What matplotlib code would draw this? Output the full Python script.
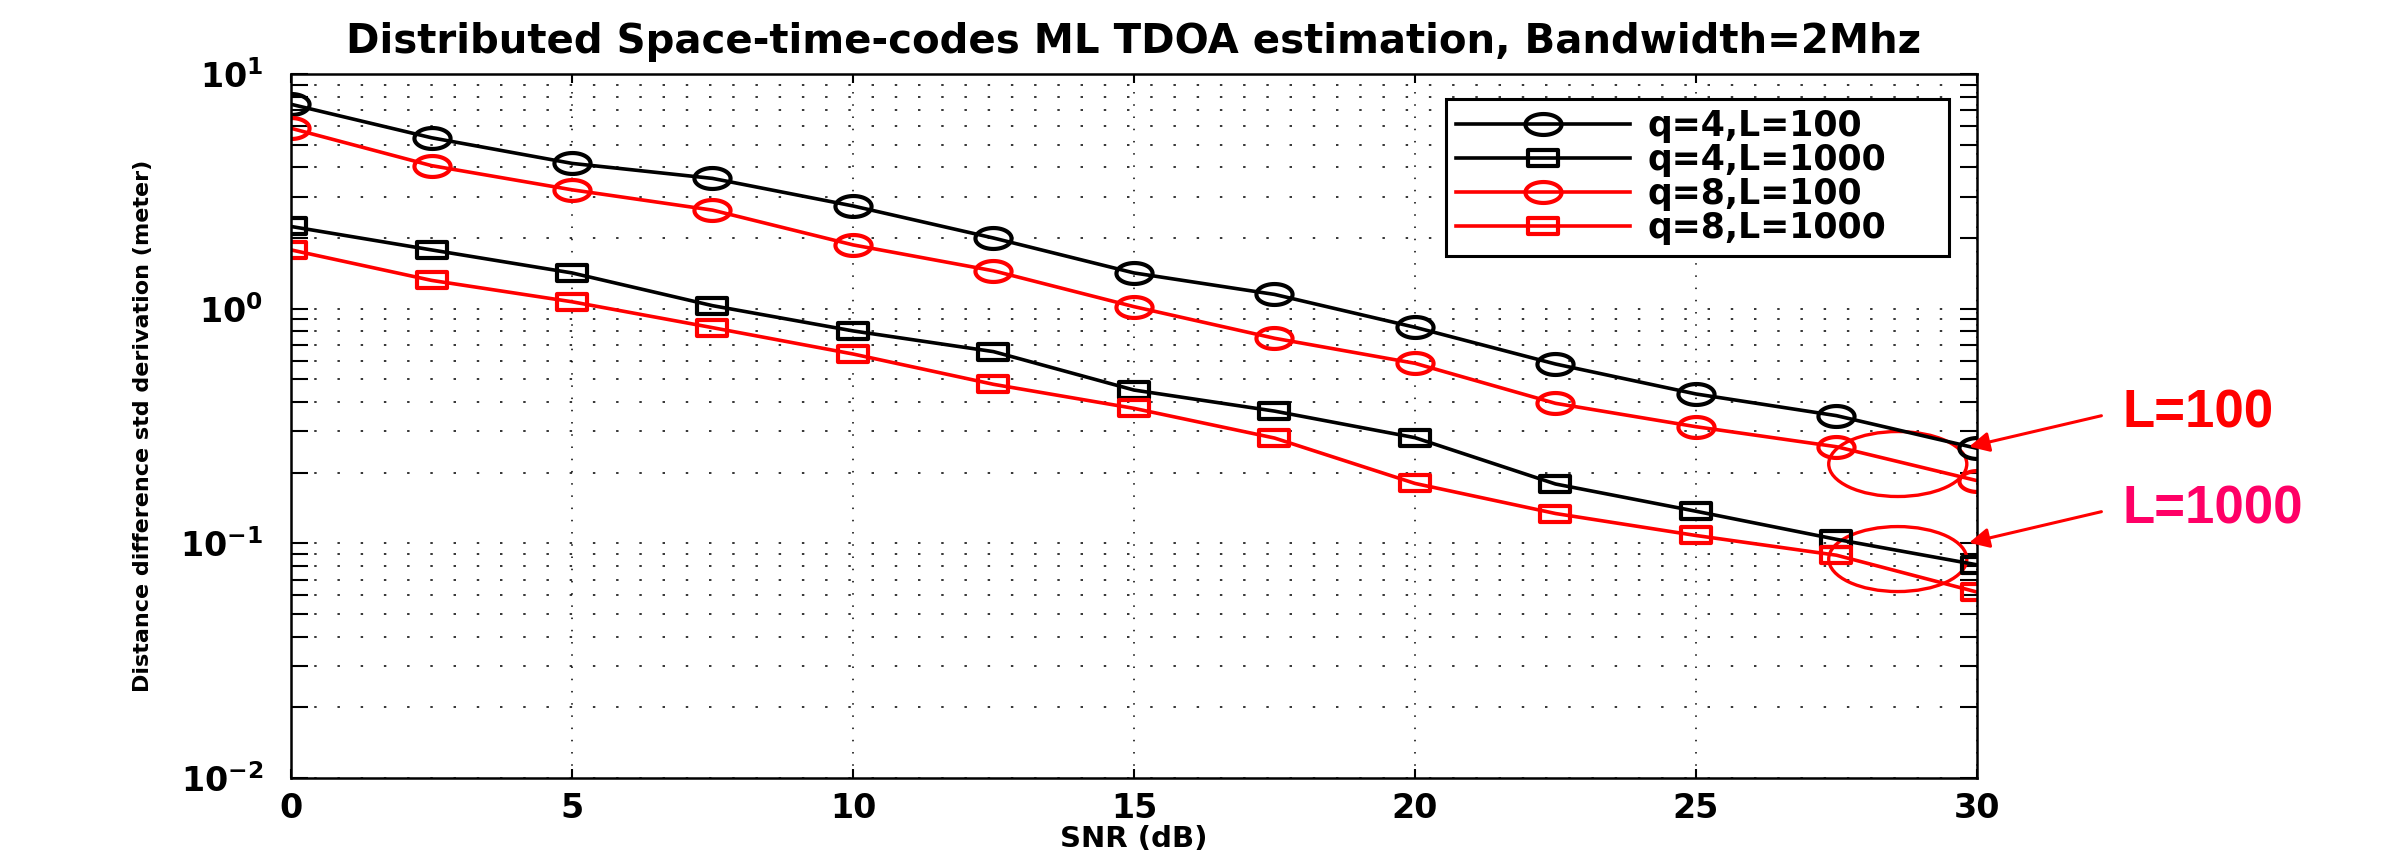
import numpy as np
import matplotlib
matplotlib.use("Agg")
from matplotlib import pyplot as plt
from matplotlib.path import Path
from matplotlib.patches import Ellipse

# SNR (dB)
snr = [0, 2.5, 5, 7.5, 10, 12.5, 15, 17.5, 20, 22.5, 25, 27.5, 30]

# distance difference std (m)
q4_L100 = [7.43, 5.35, 4.16, 3.59, 2.74, 2.00, 1.42, 1.15, 0.833, 0.581, 0.433, 0.350, 0.254]
q4_L1000 = [2.24, 1.78, 1.42, 1.03, 0.804, 0.656, 0.450, 0.366, 0.282, 0.179, 0.137, 0.104, 0.081]
q8_L100 = [5.87, 4.07, 3.21, 2.63, 1.87, 1.45, 1.02, 0.748, 0.585, 0.395, 0.314, 0.258, 0.185]
q8_L1000 = [1.78, 1.32, 1.07, 0.83, 0.641, 0.476, 0.376, 0.281, 0.180, 0.134, 0.108, 0.089, 0.062]

labels = ["q=4,L=100", "q=4,L=1000", "q=8,L=100", "q=8,L=1000"]
xticks = [0, 5, 10, 15, 20, 25, 30]

# the original picture is stretched sideways, so markers are flattened
t = np.linspace(0, 2 * np.pi, 61)
oval = Path(np.column_stack([np.cos(t), 0.58 * np.sin(t)]), closed=True)
box = Path([(-1, -0.55), (1, -0.55), (1, 0.55), (-1, 0.55), (-1, -0.55)], closed=True)

plt.rcParams['font.family'] = ['DejaVu Sans']
plt.rcParams['font.weight'] = 'bold'
plt.rcParams['axes.titleweight'] = 'bold'
plt.rcParams['axes.labelweight'] = 'bold'
plt.rcParams['mathtext.default'] = 'bf'
fig = plt.figure(figsize=(23.88, 8.51), dpi=100)
ax = fig.add_axes([291 / 2388, 1 - 778 / 851, 1686 / 2388, 704 / 851])

lw = 2.6
mew = 3.0
ax.plot(snr, q4_L100, color='k', lw=lw, marker=oval, ms=26, mfc='none', mew=mew, label=labels[0])
ax.plot(snr, q4_L1000, color='k', lw=lw, marker=box, ms=22, mfc='none', mew=mew, label=labels[1])
ax.plot(snr, q8_L100, color='#ff0000', lw=lw, marker=oval, ms=26, mfc='none', mew=mew, label=labels[2])
ax.plot(snr, q8_L1000, color='#ff0000', lw=lw, marker=box, ms=22, mfc='none', mew=mew, label=labels[3])

ax.set_yscale('log')
ax.set_xlim(0, 30)
ax.set_ylim(1e-2, 1e1)
ax.set_xticks(xticks)
ax.set_xticklabels([str(v) for v in xticks])

# matlab style dotted grid
ax.xaxis.grid(True, which='major', color='k', lw=1.1, linestyle=(0, (1.0, 7.0)))
ax.yaxis.grid(True, which='both', color='k', lw=1.1, linestyle=(0, (1.6, 13.6)))
ax.set_axisbelow(True)

ax.tick_params(axis='both', which='both', direction='in', top=True, right=True, width=1.5)
ax.tick_params(axis='x', which='major', length=6.5, labelsize=24, pad=10)
ax.tick_params(axis='y', which='both', length=12, labelsize=24, pad=20)
ax.minorticks_off()
ax.yaxis.set_minor_locator(matplotlib.ticker.LogLocator(base=10, subs=np.arange(2, 10), numticks=20))
ax.tick_params(axis='y', which='minor', direction='in', length=12, width=1.5, left=True, right=True)
for s in ax.spines.values():
    s.set_linewidth(1.8)

ax.set_title("Distributed Space-time-codes ML TDOA estimation, Bandwidth=2Mhz", fontsize=29, pad=15)
ax.set_xlabel("SNR (dB)", fontsize=21, labelpad=0)
ax.set_ylabel("Distance difference std derivation (meter)", fontsize=16)
ax.yaxis.set_label_coords(-0.082, 0.5)

leg = ax.legend(loc='upper left', bbox_to_anchor=(0.685, 0.0, 0.2983, 0.9645), mode='expand',
                fontsize=25, labelspacing=0.0, handlelength=5.0, handletextpad=0.5,
                borderpad=0.3, borderaxespad=0.0, fancybox=False, framealpha=1, edgecolor='k')
leg.get_frame().set_linewidth(2.2)

# hand-drawn annotations
ax.add_patch(Ellipse((0.953, 0.446), 0.0819, 0.0923, transform=ax.transAxes, fill=False,
                     edgecolor='#ff0000', lw=2.4, clip_on=False))
ax.add_patch(Ellipse((0.953, 0.311), 0.0819, 0.0923, transform=ax.transAxes, fill=False,
                     edgecolor='#ff0000', lw=2.4, clip_on=False))
arrow = dict(arrowstyle='-|>', color='#ff0000', lw=2.2, mutation_scale=30, shrinkA=0, shrinkB=0)
ax.annotate('', xy=(0.9953, 0.4706), xytext=(1.0738, 0.5146), xycoords='axes fraction',
            textcoords='axes fraction', arrowprops=arrow, annotation_clip=False)
ax.annotate('', xy=(0.9953, 0.3342), xytext=(1.0738, 0.3783), xycoords='axes fraction',
            textcoords='axes fraction', arrowprops=arrow, annotation_clip=False)
fig.text(2123 / 2388, 1 - 427 / 851, "L=100", color='#ff0000', fontsize=38, fontweight='bold',
         family='Liberation Sans', va='baseline')
fig.text(2123 / 2388, 1 - 523 / 851, "L=1000", color='#ff0066', fontsize=38, fontweight='bold',
         family='Liberation Sans', va='baseline')

fig.savefig("out.png", dpi=100)
